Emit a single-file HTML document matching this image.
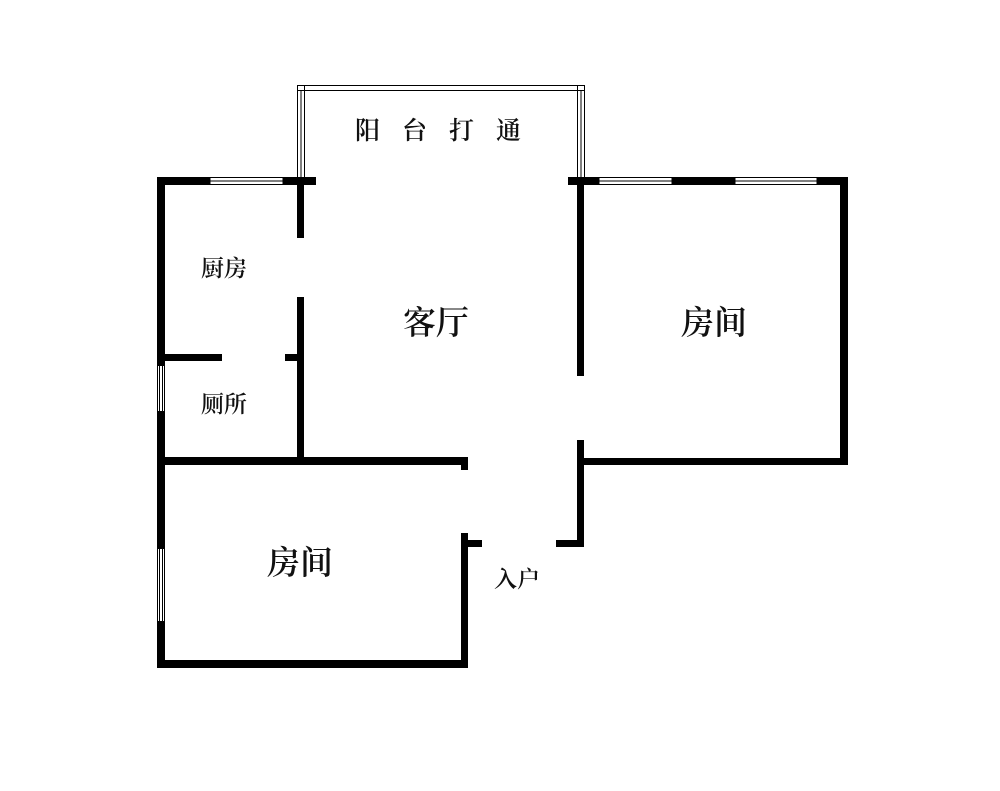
<!DOCTYPE html>
<html><head><meta charset="utf-8"><style>
html,body{margin:0;padding:0;background:#fff;}
svg text{font-family:"Liberation Serif","Noto Serif CJK SC",serif;fill:#111;font-weight:600;}
</style></head><body>
<svg width="1000" height="786" viewBox="0 0 1000 786" xmlns="http://www.w3.org/2000/svg">
<g fill="#000">
<rect x="157" y="177" width="8" height="491"/>
<rect x="157" y="177" width="53" height="8"/>
<rect x="283" y="177" width="33" height="8"/>
<rect x="297" y="177" width="7" height="61"/>
<rect x="297" y="297" width="7" height="168"/>
<rect x="157" y="354" width="65" height="7"/>
<rect x="285" y="354" width="19" height="7"/>
<rect x="157" y="457" width="311" height="8"/>
<rect x="461" y="457" width="7" height="13"/>
<rect x="461" y="533" width="7" height="135"/>
<rect x="461" y="540" width="21" height="7"/>
<rect x="157" y="660" width="311" height="8"/>
<rect x="577" y="177" width="7" height="199"/>
<rect x="577" y="440" width="7" height="107"/>
<rect x="556" y="540" width="28" height="7"/>
<rect x="568" y="177" width="31" height="8"/>
<rect x="672" y="177" width="63" height="8"/>
<rect x="817" y="177" width="31" height="8"/>
<rect x="840" y="177" width="8" height="288"/>
<rect x="577" y="458" width="271" height="7"/>
</g>
<g fill="none" stroke="#000" stroke-width="1">
<rect x="297.5" y="85.5" width="287" height="5"/>
<line x1="297.5" y1="85" x2="297.5" y2="180"/>
<line x1="301" y1="90" x2="301" y2="180"/>
<line x1="304.5" y1="85" x2="304.5" y2="180"/>
<line x1="577.5" y1="85" x2="577.5" y2="180"/>
<line x1="581" y1="90" x2="581" y2="180"/>
<line x1="584.5" y1="85" x2="584.5" y2="180"/>
<rect x="210" y="177.5" width="73" height="7"/>
<line x1="210" y1="181" x2="283" y2="181"/>
<rect x="599" y="177.5" width="73" height="7"/>
<line x1="599" y1="181" x2="672" y2="181"/>
<rect x="735" y="177.5" width="82" height="7"/>
<line x1="735" y1="181" x2="817" y2="181"/>
<rect x="157.5" y="365" width="7" height="47"/>
<rect x="157.5" y="548" width="7" height="74"/>
</g>
<g fill="#fff">
<rect x="158" y="366" width="6" height="45"/>
<rect x="158" y="549" width="6" height="72"/>
</g>
<g stroke="#000" stroke-width="1" fill="none">
<line x1="159.5" y1="366" x2="159.5" y2="411"/><line x1="162.5" y1="366" x2="162.5" y2="411"/>
<line x1="159.5" y1="549" x2="159.5" y2="621"/><line x1="162.5" y1="549" x2="162.5" y2="621"/>
</g>
<text x="355" y="139" font-size="25" letter-spacing="22">阳台打通</text>
<text x="201" y="276" font-size="23">厨房</text>
<text x="201" y="412" font-size="23">厕所</text>
<text x="403" y="334" font-size="33">客厅</text>
<text x="681" y="334" font-size="33">房间</text>
<text x="267" y="574" font-size="33">房间</text>
<text x="494" y="587" font-size="23">入户</text>
</svg>
</body></html>
